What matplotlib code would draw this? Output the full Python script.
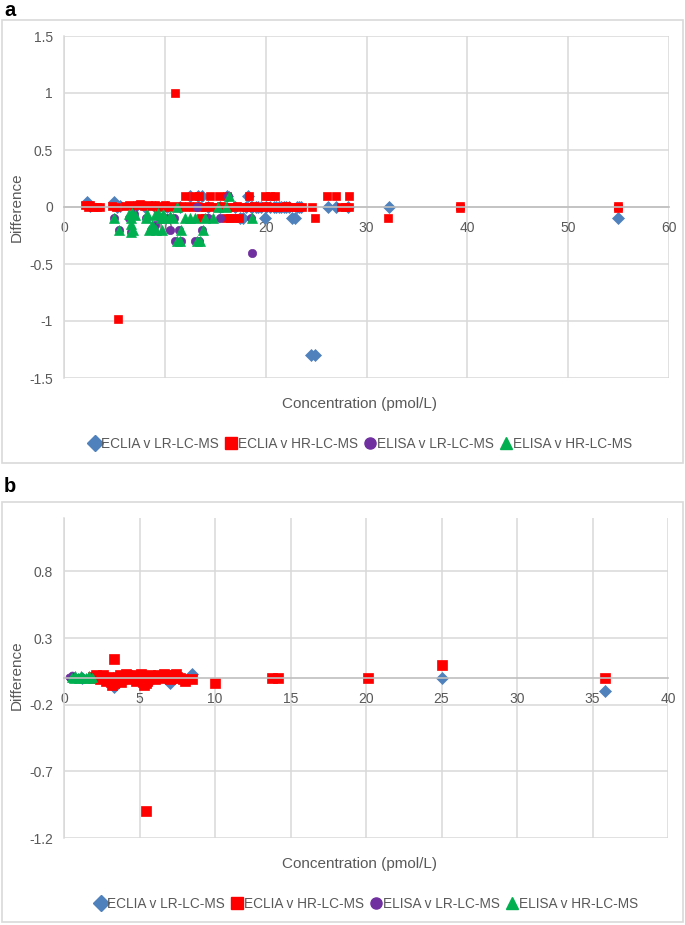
import matplotlib
matplotlib.use("Agg")
import matplotlib.pyplot as plt
from matplotlib.lines import Line2D
from matplotlib.patches import Rectangle

plt.rcParams['font.family'] = ['Liberation Sans', 'DejaVu Sans']

# ---------------- data ----------------
series_names = ["ECLIA v LR-LC-MS", "ECLIA v HR-LC-MS", "ELISA v LR-LC-MS", "ELISA v HR-LC-MS"]
series_colors = ["#4F81BD", "#FF0000", "#7030A0", "#00B050"]
series_markers = ["D", "s", "o", "^"]

# Panel a
a_xticks = [0, 10, 20, 30, 40, 50, 60]
a_yticks = [-1.5, -1, -0.5, 0, 0.5, 1, 1.5]
a_yticklabels = ["-1.5", "-1", "-0.5", "0", "0.5", "1", "1.5"]

a_eclia_lr_x = [2.3, 2.6, 5.0, 5.3, 5.6, 7.0, 8.0, 9.0, 10.2, 11.5, 12.5, 13.3, 13.7, 14.3, 15.5,
                16.2, 17.0, 17.5, 17.8, 18.0, 18.2, 18.5, 18.6, 19.0, 19.2, 19.5, 19.9, 20.0, 20.4,
                20.8, 21.0, 21.3, 21.5, 21.8, 22.0, 22.3, 22.6, 22.9, 23.1, 23.3, 23.5, 24.5, 24.85,
                26.2, 27.0, 28.2, 32.2, 54.9]
a_eclia_lr_y = [0.04, 0.01, 0.04, 0.0, 0.01, 0.0, 0.0, 0.0, 0.0, 0.0, 0.1, 0.1, 0.1, 0.0, 0.0,
                0.1, 0.0, -0.1, -0.1, 0.0, 0.1, 0.0, 0.0, 0.0, 0.0, 0.0, -0.1, 0.0, 0.0,
                0.0, 0.0, 0.0, 0.0, 0.0, 0.0, 0.0, -0.1, -0.1, 0.0, 0.0, 0.0, -1.3, -1.3,
                0.0, 0.0, 0.0, 0.0, -0.1]

a_eclia_hr_x = [2.05, 2.4, 2.6, 2.9, 3.3, 3.6, 4.8, 5.2, 6.0, 6.4, 6.8, 7.2, 7.5, 7.9, 8.3, 8.6,
                9.0, 9.3, 9.7, 10.0, 10.4, 10.8, 11.2, 11.6, 12.0, 12.4, 12.8, 13.2, 13.6, 14.0,
                14.4, 14.8, 15.2, 15.6, 16.0, 16.4, 16.8, 17.2, 17.6, 18.0, 18.4, 18.8, 19.2,
                19.6, 20.0, 20.4, 20.8, 21.2, 21.6, 22.0, 22.4, 22.8, 23.2, 23.6, 24.6, 27.5,
                27.9, 28.3,
                12.0, 12.9, 13.4, 14.5, 15.4, 16.2, 18.3, 19.9, 20.4, 20.9, 26.1, 27.0, 28.3,
                13.6, 14.0, 16.1, 16.5, 16.9, 17.4, 24.9, 32.1,
                11.0, 5.35, 39.3, 39.3, 54.9, 54.9]
a_eclia_hr_y = [0.02, 0.0, 0.02, 0.0, 0.0, 0.0, 0.01, 0.0, 0.01, 0.02, 0.01, 0.02, 0.03, 0.01,
                0.02, 0.01, 0.02, 0.0, 0.01, 0.02, 0.0, 0.01, 0.0, 0.01, 0.0, 0.01, 0.0, 0.01,
                0.0, 0.0, 0.01, 0.0, 0.0, 0.01, 0.0, 0.0, 0.0, 0.01, 0.0, 0.0, 0.0, 0.01, 0.0,
                0.0, 0.01, 0.0, 0.0, 0.0, 0.0, 0.01, 0.0, 0.0, 0.0, 0.0, 0.0, 0.0,
                0.0, 0.0,
                0.1, 0.1, 0.1, 0.1, 0.1, 0.1, 0.1, 0.1, 0.1, 0.1, 0.1, 0.1, 0.1,
                -0.1, -0.1, -0.1, -0.1, -0.1, -0.1, -0.1, -0.1,
                1.0, -0.98, 0.01, -0.01, 0.01, -0.01]

a_elisa_lr_x = [5.0, 5.5, 6.4, 6.6, 6.9, 8.1, 8.6, 9.0, 9.5, 10.2, 10.5, 10.9, 11.0, 11.4, 11.6,
                13.0, 13.4, 13.2, 13.7, 14.3, 15.5, 16.3, 18.6, 18.5]
a_elisa_lr_y = [-0.1, -0.2, -0.1, -0.22, -0.06, -0.1, -0.2, -0.16, -0.1, -0.1, -0.2, -0.1, -0.3,
                -0.2, -0.3, -0.3, -0.3, 0.0, -0.2, -0.1, -0.1, 0.1, -0.4, -0.1]

a_elisa_hr_x = [5.0, 5.5, 6.4, 6.6, 6.7, 6.6, 6.8, 6.6, 7.0, 8.1, 8.2, 8.4, 8.7, 8.9, 9.1, 9.0,
                9.3, 9.6, 9.7, 9.8, 10.0, 10.5, 10.8, 11.2, 11.2, 11.5, 11.6, 12.0, 12.5, 13.0,
                13.2, 13.5, 13.8, 14.0, 14.8, 15.3, 16.1, 16.4, 18.6]
a_elisa_hr_y = [-0.1, -0.2, -0.06, -0.1, -0.05, -0.15, -0.2, -0.22, -0.07, -0.1, -0.06, -0.2,
                -0.16, -0.18, -0.2, -0.07, -0.05, -0.1, -0.2, -0.06, -0.1, -0.08, -0.1, 0.0,
                -0.3, -0.3, -0.2, -0.1, -0.1, -0.1, -0.3, -0.3, -0.2, -0.1, -0.1, 0.0, 0.0,
                0.1, -0.1]

# Panel b
b_xticks = [0, 5, 10, 15, 20, 25, 30, 35, 40]
b_yticks = [-1.2, -0.7, -0.2, 0.3, 0.8]
b_yticklabels = ["-1.2", "-0.7", "-0.2", "0.3", "0.8"]

b_eclia_lr_x = [1.2, 2.5, 3.3, 4.2, 5.7, 7.0, 8.5, 25.0, 35.8]
b_eclia_lr_y = [0.0, 0.01, -0.07, 0.0, -0.02, -0.04, 0.03, 0.0, -0.1]

b_eclia_hr_x = [1.9, 2.0, 2.1, 2.2, 2.3, 2.4, 2.5, 2.6, 2.7, 2.8, 2.9, 3.0, 3.1, 3.2, 3.3, 3.4,
                3.5, 3.6, 3.7, 3.8, 3.9, 4.0, 4.1, 4.2, 4.3, 4.4, 4.5, 4.6, 4.7, 4.8, 4.9, 5.0,
                5.1, 5.2, 5.3, 5.4, 5.5, 5.6, 5.7, 5.8, 5.9, 6.0, 6.2, 6.4, 6.5, 6.6, 6.8, 7.0,
                7.1, 7.3, 7.4, 7.5, 7.7, 7.9, 8.0,
                3.3, 5.4, 8.5, 10.0, 13.8, 14.2, 20.1, 25.0, 35.8]
b_eclia_hr_y = [0.01, 0.0, 0.02, 0.01, 0.0, -0.01, 0.01, 0.02, 0.0, -0.02, 0.01, 0.0, -0.03,
                -0.05, -0.04, -0.02, 0.0, 0.01, 0.02, -0.03, 0.0, 0.01, 0.03, 0.02, 0.0, -0.01,
                0.0, 0.02, 0.01, -0.02, 0.0, 0.01, 0.03, -0.03, -0.05, -0.04, -0.02, 0.0, 0.02,
                0.01, 0.0, -0.01, 0.02, 0.01, 0.0, 0.03, 0.02, -0.01, 0.0, 0.02, 0.03, 0.01,
                0.0, -0.01, -0.02,
                0.14, -1.0, -0.01, -0.04, 0.0, 0.0, 0.0, 0.1, 0.0]

b_elisa_lr_x = [0.3, 0.4, 0.5, 0.7, 1.0, 1.3]
b_elisa_lr_y = [0.01, 0.0, 0.02, 0.0, 0.01, 0.0]

b_elisa_hr_x = [0.45, 0.55, 0.65, 0.75, 0.85, 0.95, 1.05, 1.15, 1.25, 1.35, 1.45, 1.55, 1.65,
                1.75, 1.85, 1.95, 0.6, 0.9, 1.2, 1.5, 1.8]
b_elisa_hr_y = [0.0, 0.01, 0.0, 0.02, 0.0, 0.01, 0.0, 0.02, 0.01, 0.0, 0.01, 0.0, 0.02, 0.0,
                0.01, 0.0, -0.01, -0.01, -0.01, -0.01, -0.01]

# ---------------- figure ----------------
W, H = 685, 925
fig = plt.figure(figsize=(W / 100, H / 100), dpi=100)
TXT = "#595959"
GRID = "#d9d9d9"


def fx(x):
    return x / W


def fy(y):
    return 1 - y / H


def make_axes(left, right, top, bottom):
    return fig.add_axes([fx(left), fy(bottom), (right - left) / W, (bottom - top) / H])


def style(ax, xticks, yticks, yticklabels, xlim, ylim):
    ax.set_xlim(*xlim)
    ax.set_ylim(*ylim)
    ax.set_xticks(xticks)
    ax.set_xticklabels([str(t) for t in xticks])
    ax.set_yticks(yticks)
    ax.set_yticklabels(yticklabels)
    ax.set_axisbelow(True)
    ax.grid(True, color=GRID, lw=1.1)
    for s in ["top", "right"]:
        ax.spines[s].set_visible(False)
    ax.spines["left"].set_color(GRID)
    ax.spines["left"].set_linewidth(1.1)
    ax.spines["bottom"].set_position(("data", 0))
    ax.spines["bottom"].set_color("#bfbfbf")
    ax.spines["bottom"].set_linewidth(1.2)
    ax.tick_params(axis="both", length=0, labelsize=10, labelcolor=TXT)
    ax.tick_params(axis="y", pad=8)
    ax.tick_params(axis="x", pad=10)


def plot_series(ax, data, sizes):
    for (x, y), c, m, s in zip(data, series_colors, series_markers, sizes):
        ax.plot(x, y, ls="none", marker=m, ms=s, color=c, mec=c, mew=0.5, clip_on=False)


def legend(cx, cy):
    handles = [Line2D([], [], ls="none", marker=m, color=c, mec=c, ms=s)
               for m, c, s in zip(series_markers, series_colors, [8.2, 8.3, 8.0, 8.6])]
    fig.legend(handles, series_names, loc="center", bbox_to_anchor=(fx(cx), fy(cy)),
               ncol=4, frameon=False, handlelength=0.7, handletextpad=0.15,
               columnspacing=0.55, fontsize=9.8, labelcolor=TXT, borderpad=0)


# panel boxes
for top, bottom in [(20, 463), (502, 922)]:
    fig.add_artist(Rectangle((fx(2), fy(bottom)), (683 - 2) / W, (bottom - top) / H,
                             transform=fig.transFigure, fill=False, ec=GRID, lw=1.2))

fig.text(fx(4), fy(11), "a", fontsize=14.5, fontweight="bold", ha="left", va="center", color="black")
fig.text(fx(4), fy(487), "b", fontsize=14.5, fontweight="bold", ha="left", va="center", color="black")

# panel a
axa = make_axes(64, 669, 36, 378)
style(axa, a_xticks, a_yticks, a_yticklabels, (0, 60), (-1.5, 1.5))
plot_series(axa, [(a_eclia_lr_x, a_eclia_lr_y), (a_eclia_hr_x, a_eclia_hr_y),
                  (a_elisa_lr_x, a_elisa_lr_y), (a_elisa_hr_x, a_elisa_hr_y)],
            [6.6, 5.8, 6.0, 6.8])
fig.text(fx(17), fy(207), "Difference", rotation=90, ha="center", va="center", fontsize=11, color=TXT)
fig.text(fx(360), fy(404), "Concentration (pmol/L)", ha="center", va="center", fontsize=11, color=TXT)
legend(361, 444)

# panel b
axb = make_axes(64, 668, 518, 838)
style(axb, b_xticks, b_yticks, b_yticklabels, (0, 40), (-1.2, 1.2))
plot_series(axb, [(b_eclia_lr_x, b_eclia_lr_y), (b_eclia_hr_x, b_eclia_hr_y),
                  (b_elisa_lr_x, b_elisa_lr_y), (b_elisa_hr_x, b_elisa_hr_y)],
            [5.8, 6.6, 5.0, 5.2])
fig.text(fx(17), fy(675), "Difference", rotation=90, ha="center", va="center", fontsize=11, color=TXT)
fig.text(fx(360), fy(864), "Concentration (pmol/L)", ha="center", va="center", fontsize=11, color=TXT)
legend(367, 904)

fig.savefig("out.png", dpi=100)
